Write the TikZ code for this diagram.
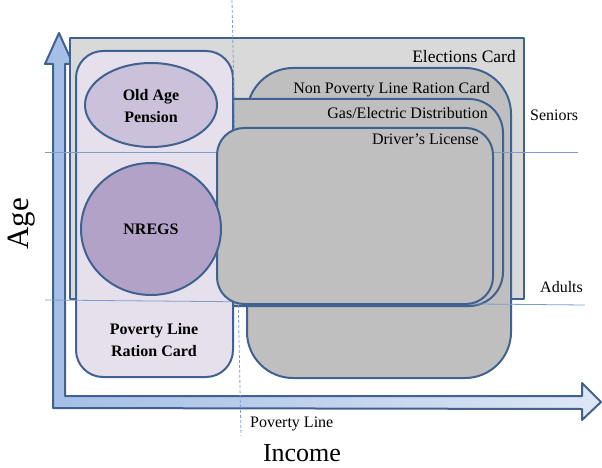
\documentclass[tikz,border=0pt]{standalone}
\usepackage{fontspec}
\setmainfont{Liberation Serif}
\usetikzlibrary{calc}

\definecolor{edgeblue}{RGB}{65,98,145}
\definecolor{guideblue}{RGB}{125,158,205}
\definecolor{cardgray}{RGB}{217,217,217}
\definecolor{docgray}{RGB}{191,191,191}
\definecolor{plfill}{RGB}{229,224,236}
\definecolor{oapfill}{RGB}{204,193,218}
\definecolor{nregsfill}{RGB}{179,162,199}
\definecolor{axisdark}{RGB}{164,190,230}
\definecolor{axislight}{RGB}{222,231,245}

\tikzset{
  scheme/.style={draw=edgeblue, line width=2pt, line join=round},
  guide/.style={guideblue, line width=0.8pt},
  tag/.style={inner sep=0pt, font=\fontsize{16}{22}\selectfont},
  boldtag/.style={inner sep=0pt, align=center, font=\fontsize{16}{22}\selectfont\bfseries},
}

\begin{document}
\begin{tikzpicture}[x=1pt, y=-1pt]
  \useasboundingbox (0,0) rectangle (602,468);

  % axes as one L-shaped block arrow
  \draw[scheme, left color=axisdark, right color=axislight]
    (53,408) -- (53,64) -- (45,64) -- (59,33) -- (73,64) -- (65,64) -- (65,396)
    -- (582,396) -- (582,383) -- (601,402) -- (582,420) -- (582,409) -- cycle;

  % document sets
  \draw[scheme, fill=cardgray] (70,38) rectangle (524,299);
  \draw[scheme, fill=docgray, rounded corners=46pt] (247,68) rectangle (511,378);
  \draw[scheme, fill=docgray, rounded corners=34pt] (200,99) rectangle (503,306);
  \draw[scheme, fill=plfill, rounded corners=27pt] (76,51) rectangle (233,377);

  % age bands and poverty line
  \draw[guide] (45,152) -- (578,152);
  \draw[guide] (45,300) -- (585,305);
  \draw[guide, dashed, dash pattern=on 3pt off 2pt] (232,0) -- (241,436);

  \draw[scheme, fill=docgray, rounded corners=27pt] (217,128) rectangle (493,304);
  \draw[scheme, fill=oapfill] (151,105) ellipse [x radius=66, y radius=42];
  \draw[scheme, fill=nregsfill] (151,229) ellipse [x radius=70, y radius=66];

  % labels
  \node[tag, font=\fontsize{17.5}{22}\selectfont, anchor=base east] (elections) at (516,63) {Elections Card};
  \node[tag, anchor=base east] (nonpoverty) at (490,94) {Non Poverty Line Ration Card};
  \node[tag, anchor=base east] (gas) at (488,118) {Gas/Electric Distribution};
  \node[tag, anchor=base east] (driver) at (479,144) {Driver’s License};
  \node[tag, anchor=base west] (seniors) at (530,121) {Seniors};
  \node[tag, anchor=base west] (adults) at (540,292) {Adults};
  \node[tag, anchor=base west] (povline) at (250,427) {Poverty Line};
  \node[boldtag] (oap) at (151,106) {Old Age\\Pension};
  \node[boldtag] (nregs) at (151,229) {NREGS};
  \node[boldtag] (plcard) at (154,340) {Poverty Line\\Ration Card};
  \node[inner sep=0pt, font=\fontsize{26}{30}\selectfont, anchor=base] (income) at (302,461) {Income};
  \node[inner sep=0pt, font=\fontsize{31}{36}\selectfont, rotate=90] (age) at (22,224) {Age};
\end{tikzpicture}
\end{document}
